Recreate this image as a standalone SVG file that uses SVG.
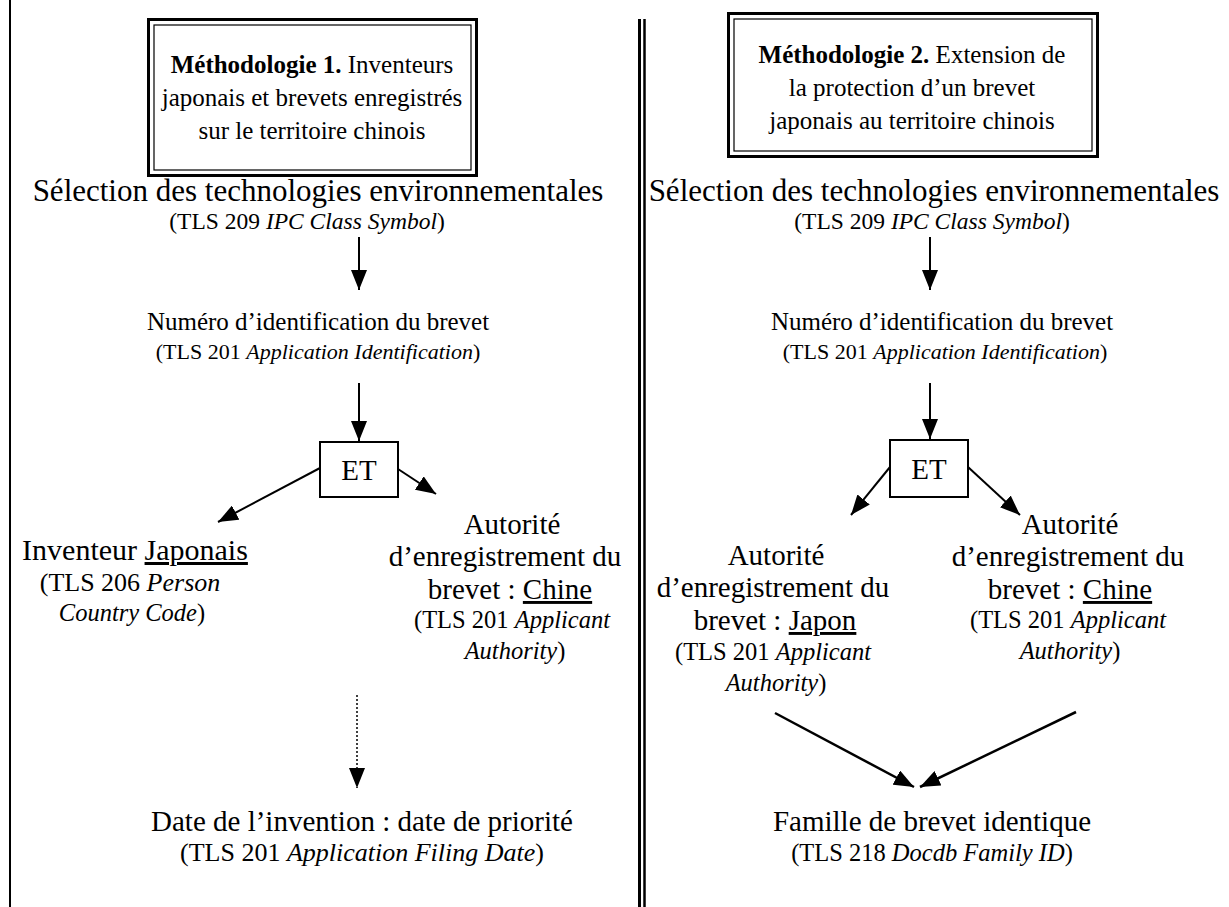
<svg xmlns="http://www.w3.org/2000/svg" width="1229" height="907" viewBox="0 0 1229 907">
<style>
text{font-family:"Liberation Serif","Times New Roman",serif;fill:#000;text-anchor:middle}
.m{font-size:29px}
.s{font-size:24.5px}
.t{font-size:25px}
.sel{font-size:31px}
.sel2{font-size:23.5px}
.num{font-size:25px}
.num2{font-size:22px}
.b{font-weight:bold}
.i{font-style:italic}
.u{text-decoration:underline}
.ln{stroke:#000;stroke-width:2;fill:none}
.thk{stroke:#000;stroke-width:3;fill:none}
.thn{stroke:#000;stroke-width:1.2;fill:none}
</style>
<defs>
<marker id="ah" viewBox="0 0 20 16" refX="20" refY="8" markerWidth="20" markerHeight="16" markerUnits="userSpaceOnUse" orient="auto">
<path d="M0,0 L20,8 L0,16 Z" fill="#000"/>
</marker>
</defs>
<rect width="1229" height="907" fill="#fff"/>
<g id="frame">
<line x1="10" y1="0" x2="10" y2="907" class="ln"/>
<line x1="639.5" y1="19" x2="639.5" y2="907" stroke="#000" stroke-width="3"/>
<line x1="644.5" y1="19" x2="644.5" y2="907" stroke="#000" stroke-width="2.5"/>
</g>
<g id="title1">
<rect x="148.5" y="19.5" width="328" height="156" class="thk"/>
<rect x="154" y="25" width="317" height="145" class="thn"/>
<text class="t" x="312" y="73"><tspan class="b">Méthodologie 1.</tspan> Inventeurs</text>
<text class="t" x="312" y="106">japonais et brevets enregistrés</text>
<text class="t" x="312" y="139">sur le territoire chinois</text>
</g>
<g id="title2">
<rect x="728.5" y="13.5" width="369" height="143" class="thk"/>
<rect x="734" y="19" width="358" height="132" class="thn"/>
<text class="t" x="912" y="63"><tspan class="b">Méthodologie 2.</tspan> Extension de</text>
<text class="t" x="912" y="96">la protection d’un brevet</text>
<text class="t" x="912" y="129">japonais au territoire chinois</text>
</g>
<g id="sel1">
<text class="sel" x="318" y="201">Sélection des technologies environnementales</text>
<text class="sel2" x="307" y="229">(TLS 209 <tspan class="i">IPC Class Symbol</tspan>)</text>
</g>
<g id="num1">
<text class="num" x="318" y="330">Numéro d’identification du brevet</text>
<text class="num2" x="318" y="359">(TLS 201 <tspan class="i">Application Identification</tspan>)</text>
</g>
<g id="et1">
<rect x="320" y="442" width="78" height="55" class="ln"/>
<text class="m" x="359" y="480">ET</text>
</g>
<g id="inv1">
<text class="m" x="135" y="560" style="font-size:30px">Inventeur <tspan class="u">Japonais</tspan></text>
<text class="s" x="130" y="591" style="font-size:26px">(TLS 206 <tspan class="i">Person</tspan></text>
<text class="s" x="132" y="621"><tspan class="i">Country Code</tspan>)</text>
</g>
<g id="aut1">
<text class="m" x="512" y="534">Autorité</text>
<text class="m" x="505" y="566">d’enregistrement du</text>
<text class="m" x="510" y="599">brevet : <tspan class="u">Chine</tspan></text>
<text class="s" x="512" y="628">(TLS 201 <tspan class="i">Applicant</tspan></text>
<text class="s" x="515" y="659"><tspan class="i">Authority</tspan>)</text>
</g>
<g id="date1">
<text class="m" x="362" y="831">Date de l’invention : date de priorité</text>
<text class="s" x="362" y="861" style="font-size:26px">(TLS 201 <tspan class="i">Application Filing Date</tspan>)</text>
</g>
<g id="sel2">
<text class="sel" x="934" y="201">Sélection des technologies environnementales</text>
<text class="sel2" x="932" y="229">(TLS 209 <tspan class="i">IPC Class Symbol</tspan>)</text>
</g>
<g id="num2">
<text class="num" x="942" y="330">Numéro d’identification du brevet</text>
<text class="num2" x="945" y="359">(TLS 201 <tspan class="i">Application Identification</tspan>)</text>
</g>
<g id="et2">
<rect x="890" y="440" width="78" height="57" class="ln"/>
<text class="m" x="929" y="479">ET</text>
</g>
<g id="aut2a">
<text class="m" x="776" y="565">Autorité</text>
<text class="m" x="773" y="597">d’enregistrement du</text>
<text class="m" x="775" y="630">brevet : <tspan class="u">Japon</tspan></text>
<text class="s" x="773" y="660">(TLS 201 <tspan class="i">Applicant</tspan></text>
<text class="s" x="776" y="691"><tspan class="i">Authority</tspan>)</text>
</g>
<g id="aut2b">
<text class="m" x="1070" y="534">Autorité</text>
<text class="m" x="1068" y="566">d’enregistrement du</text>
<text class="m" x="1070" y="599">brevet : <tspan class="u">Chine</tspan></text>
<text class="s" x="1068" y="628">(TLS 201 <tspan class="i">Applicant</tspan></text>
<text class="s" x="1070" y="659"><tspan class="i">Authority</tspan>)</text>
</g>
<g id="fam2">
<text class="m" x="932" y="831">Famille de brevet identique</text>
<text class="s" x="932" y="861">(TLS 218 <tspan class="i">Docdb Family ID</tspan>)</text>
</g>
<g id="connectors">
<line x1="359" y1="237" x2="359" y2="290" class="ln" marker-end="url(#ah)"/>
<line x1="359" y1="383" x2="359" y2="441" class="ln" marker-end="url(#ah)"/>
<line x1="320" y1="468" x2="218" y2="522" class="ln" marker-end="url(#ah)"/>
<line x1="398" y1="469" x2="436" y2="494" class="ln" marker-end="url(#ah)"/>
<line x1="357" y1="695" x2="357" y2="788" stroke="#000" stroke-width="1.5" stroke-dasharray="2,2" marker-end="url(#ah)"/>
<line x1="930" y1="237" x2="930" y2="290" class="ln" marker-end="url(#ah)"/>
<line x1="930" y1="383" x2="930" y2="439" class="ln" marker-end="url(#ah)"/>
<line x1="890" y1="467" x2="851" y2="515" class="ln" marker-end="url(#ah)"/>
<line x1="968" y1="467" x2="1020" y2="515" class="ln" marker-end="url(#ah)"/>
<line x1="775" y1="713" x2="914" y2="787" stroke="#000" stroke-width="2.5" marker-end="url(#ah)"/>
<line x1="1076" y1="712" x2="920" y2="787" stroke="#000" stroke-width="2.5" marker-end="url(#ah)"/>
</g>
</svg>
